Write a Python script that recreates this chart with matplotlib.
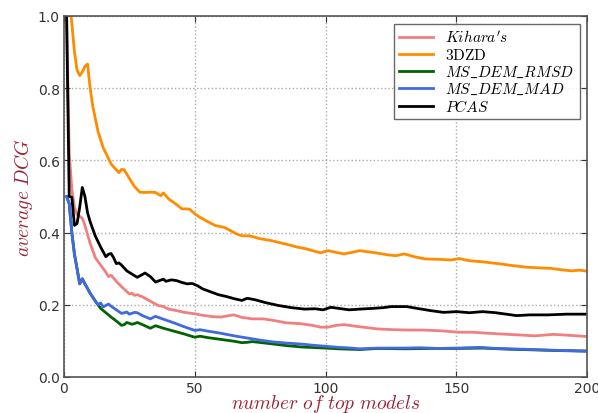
import numpy as np
import matplotlib
matplotlib.use("Agg")
import matplotlib.pyplot as plt

plt.rcParams['mathtext.fontset'] = 'cm'

# -----------------------
# Data
# -----------------------

kihara_x = [1, 2, 3, 4, 5, 7, 8, 10, 12, 14, 16, 17, 18, 20, 22, 25, 26, 27, 28, 30,
            33, 36, 38, 40, 43, 46, 50, 52, 57, 60, 63, 65, 68, 72, 76, 79, 85, 90, 95, 98,
            101, 104, 107, 112, 120, 126, 132, 137, 144, 151, 156, 160, 170, 180, 187, 192, 200]
kihara_y = [1.0, 0.62, 0.52, 0.47, 0.45, 0.44, 0.42, 0.37, 0.33, 0.31, 0.29, 0.278, 0.282, 0.265,
            0.25, 0.23, 0.232, 0.226, 0.228, 0.222, 0.21, 0.198, 0.195, 0.188, 0.184, 0.179, 0.175,
            0.172, 0.167, 0.166, 0.17, 0.172, 0.165, 0.161, 0.161, 0.158, 0.15, 0.148, 0.143, 0.138,
            0.138, 0.143, 0.145, 0.14, 0.133, 0.131, 0.13, 0.13, 0.128, 0.124, 0.124, 0.122, 0.118,
            0.114, 0.118, 0.116, 0.112]

zd_x = [1, 2, 3, 4, 5, 6, 7, 8, 9, 10, 11, 13, 15, 16, 18, 19, 21, 22, 23, 25, 27, 29, 31, 33,
        35, 37, 38, 40, 43, 45, 48, 50, 52, 55, 58, 61, 63, 66, 68, 71, 75, 79, 82, 86, 89, 92,
        95, 98, 101, 104, 107, 110, 113, 116, 120, 124, 127, 130, 134, 138, 143, 148, 151, 155,
        160, 167, 172, 177, 182, 186, 190, 194, 197, 200]
zd_y = [1.25, 1.05, 0.98, 0.9, 0.85, 0.835, 0.845, 0.86, 0.867, 0.8, 0.75, 0.68, 0.635, 0.62,
        0.59, 0.582, 0.566, 0.575, 0.574, 0.55, 0.527, 0.512, 0.511, 0.512, 0.511, 0.502, 0.51,
        0.493, 0.478, 0.466, 0.465, 0.452, 0.442, 0.43, 0.419, 0.415, 0.408, 0.396, 0.391, 0.391,
        0.383, 0.378, 0.373, 0.366, 0.36, 0.356, 0.35, 0.344, 0.35, 0.345, 0.341, 0.345, 0.35,
        0.347, 0.343, 0.338, 0.336, 0.341, 0.333, 0.327, 0.326, 0.324, 0.328, 0.322, 0.319, 0.313,
        0.308, 0.304, 0.302, 0.301, 0.297, 0.294, 0.296, 0.293]

rmsd_x = [1, 2, 3, 4, 5, 6, 7, 8, 10, 12, 13, 14, 16, 18, 20, 22, 23, 24, 26, 27, 28, 30, 33,
          35, 38, 42, 46, 50, 52, 55, 60, 65, 68, 70, 72, 78, 85, 91, 100, 105, 113, 120, 130,
          140, 150, 160, 170, 180, 190, 200]
rmsd_y = [0.5, 0.48, 0.4, 0.34, 0.3, 0.258, 0.272, 0.258, 0.232, 0.21, 0.2, 0.19, 0.178, 0.166,
          0.155, 0.143, 0.145, 0.151, 0.146, 0.148, 0.151, 0.145, 0.135, 0.142, 0.135, 0.127,
          0.119, 0.11, 0.113, 0.109, 0.104, 0.099, 0.095, 0.096, 0.098, 0.093, 0.087, 0.083, 0.08,
          0.078, 0.076, 0.079, 0.078, 0.079, 0.079, 0.08, 0.077, 0.075, 0.073, 0.072]

mad_x = [1, 2, 3, 4, 5, 6, 7, 8, 10, 12, 13, 14, 15, 16, 17, 18, 20, 22, 23, 24, 25, 27, 28,
         30, 33, 35, 38, 42, 46, 50, 52, 55, 60, 65, 70, 75, 80, 85, 91, 95, 100, 105, 110, 113,
         120, 130, 136, 143, 150, 159, 165, 175, 183, 192, 200]
mad_y = [0.5, 0.48, 0.4, 0.34, 0.3, 0.258, 0.272, 0.258, 0.232, 0.21, 0.2, 0.205, 0.194, 0.198,
         0.202, 0.196, 0.186, 0.176, 0.178, 0.18, 0.174, 0.179, 0.178, 0.17, 0.161, 0.168, 0.16,
         0.15, 0.139, 0.129, 0.131, 0.127, 0.121, 0.114, 0.108, 0.102, 0.097, 0.094, 0.091, 0.088,
         0.085, 0.082, 0.08, 0.078, 0.08, 0.08, 0.081, 0.079, 0.08, 0.082, 0.079, 0.077, 0.075,
         0.073, 0.071]

pcas_x = [1, 2, 3, 4, 5, 6, 7, 8, 9, 10, 12, 14, 16, 17, 18, 19, 20, 21, 22, 24, 26, 28, 30,
          31, 33, 35, 38, 39, 41, 43, 45, 47, 49, 51, 53, 56, 59, 62, 65, 68, 70, 73, 77, 82, 87,
          92, 96, 99, 102, 105, 109, 113, 118, 122, 125, 131, 135, 140, 145, 150, 155, 160, 165,
          173, 178, 185, 192, 200]
pcas_y = [1.0, 0.5, 0.498, 0.42, 0.425, 0.47, 0.525, 0.5, 0.455, 0.43, 0.39, 0.36, 0.333, 0.34,
          0.342, 0.33, 0.314, 0.316, 0.31, 0.294, 0.285, 0.276, 0.284, 0.288, 0.278, 0.263, 0.271,
          0.265, 0.269, 0.267, 0.262, 0.258, 0.259, 0.253, 0.244, 0.236, 0.228, 0.223, 0.217,
          0.212, 0.218, 0.214, 0.206, 0.198, 0.192, 0.188, 0.189, 0.186, 0.193, 0.19, 0.186, 0.188,
          0.19, 0.192, 0.195, 0.195, 0.19, 0.184, 0.179, 0.181, 0.178, 0.181, 0.178, 0.17, 0.172,
          0.172, 0.174, 0.174]

labels = [r"$Kihara's$", r"$\mathrm{3DZD}$", r"$MS\_DEM\_RMSD$", r"$MS\_DEM\_MAD$", r"$PCAS$"]
x_ticks = [0, 50, 100, 150, 200]
y_ticks = [0.0, 0.2, 0.4, 0.6, 0.8, 1.0]

# -----------------------
# Plot
# -----------------------

fig = plt.figure(figsize=(5.98, 4.14), dpi=100)
ax = fig.add_axes([0.107, 0.087, 0.875, 0.872])

ax.plot(kihara_x, kihara_y, color='#f08080', lw=2.0, label=labels[0])
ax.plot(zd_x, zd_y, color='#ff8c00', lw=2.0, label=labels[1])
ax.plot(rmsd_x, rmsd_y, color='#006400', lw=2.0, label=labels[2])
ax.plot(mad_x, mad_y, color='#4169e1', lw=2.0, label=labels[3])
ax.plot(pcas_x, pcas_y, color='black', lw=2.0, label=labels[4])

ax.set_xlim(0, 200)
ax.set_ylim(0, 1.0)
ax.set_xticks(x_ticks)
ax.set_yticks(y_ticks)
ax.set_yticklabels([f"{v:.1f}" for v in y_ticks])
ax.tick_params(direction='in', top=True, right=True, labelsize=10, colors='#333333',
               length=4, pad=3)
ax.grid(True, linestyle=':', color='#aaaaaa', lw=1)
for s in ax.spines.values():
    s.set_color('#555555')
    s.set_linewidth(1.2)

ax.set_xlabel(r"$number\ of\ top\ models$", color='#9b2335', fontsize=14, labelpad=-2.5)
ax.set_ylabel(r"$average\ DCG$", color='#9b2335', fontsize=14, labelpad=2)

leg = ax.legend(loc='upper right', fontsize=11, frameon=True, fancybox=False,
                borderaxespad=0.5, handlelength=2.2, labelspacing=0.12, borderpad=0.35)
leg.get_frame().set_edgecolor('#444444')
leg.get_frame().set_linewidth(1.0)

fig.savefig("out.png", dpi=100)
